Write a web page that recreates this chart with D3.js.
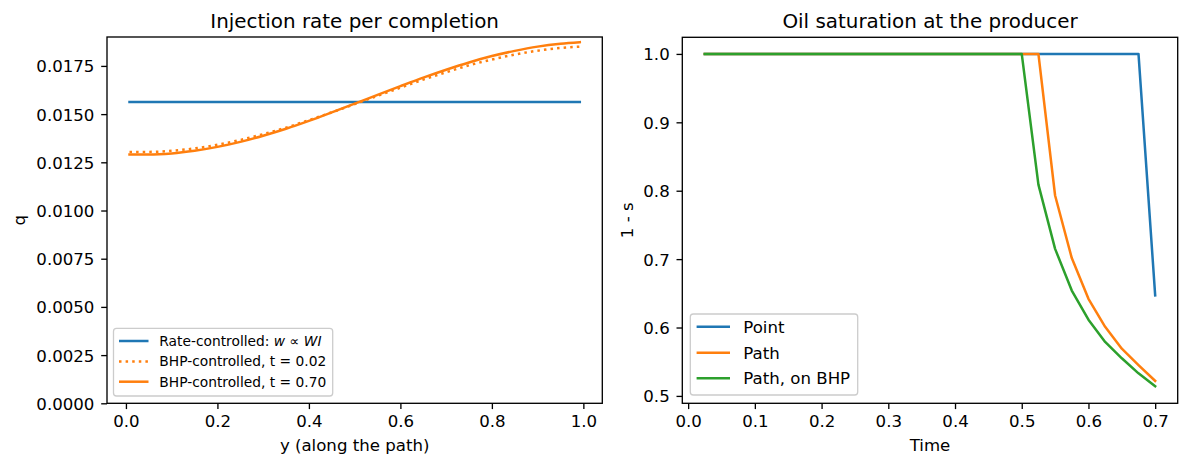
<!DOCTYPE html>
<html>
<head>
<meta charset="utf-8">
<script src="https://cdn.jsdelivr.net/npm/d3@7"></script>
<style>
  body { margin: 0; background: #fff; }
  svg { display: block; font-family: "DejaVu Sans", sans-serif; }
</style>
</head>
<body>
<div id="chart"></div>
<script>
// left panel: injection rate along the path
const pathY = [0.0078, 0.05, 0.10, 0.15, 0.20, 0.25, 0.30, 0.35, 0.40, 0.45, 0.50,
               0.55, 0.60, 0.65, 0.70, 0.75, 0.80, 0.85, 0.90, 0.95, 0.9922]
const rateCtrl = [0.015625, 0.015625, 0.015625, 0.015625, 0.015625, 0.015625, 0.015625,
                  0.015625, 0.015625, 0.015625, 0.015625, 0.015625, 0.015625, 0.015625,
                  0.015625, 0.015625, 0.015625, 0.015625, 0.015625, 0.015625, 0.015625]
const bhpEarly = [0.01304, 0.01304, 0.01310, 0.01322, 0.01341, 0.01366, 0.01396, 0.01430,
                  0.01469, 0.01509, 0.01552, 0.01595, 0.01637, 0.01679, 0.01717, 0.01753,
                  0.01783, 0.01809, 0.01829, 0.01843, 0.01850]
const bhpLate = [0.01290, 0.01290, 0.01296, 0.01310, 0.01330, 0.01356, 0.01388, 0.01424,
                 0.01465, 0.01509, 0.01554, 0.01600, 0.01645, 0.01689, 0.01730, 0.01768,
                 0.01801, 0.01828, 0.01850, 0.01865, 0.01873]
const leftYTicks = [0, 0.0025, 0.005, 0.0075, 0.01, 0.0125, 0.015, 0.0175]
const leftXTicks = [0, 0.2, 0.4, 0.6, 0.8, 1.0]

// right panel: oil saturation at the producer
const time = [0.025, 0.05, 0.075, 0.10, 0.125, 0.15, 0.175, 0.20, 0.225, 0.25, 0.275, 0.30,
              0.325, 0.35, 0.375, 0.40, 0.425, 0.45, 0.475, 0.50, 0.525, 0.55, 0.575, 0.60,
              0.625, 0.65, 0.675, 0.70]
const satPoint = [1, 1, 1, 1, 1, 1, 1, 1, 1, 1, 1, 1, 1, 1, 1, 1, 1, 1, 1, 1, 1, 1, 1, 1,
                  1, 1, 1, 0.647]
const satPath = [1, 1, 1, 1, 1, 1, 1, 1, 1, 1, 1, 1, 1, 1, 1, 1, 1, 1, 1, 1, 1, 0.793,
                 0.7015, 0.642, 0.601, 0.569, 0.545, 0.522]
const satPathBhp = [1, 1, 1, 1, 1, 1, 1, 1, 1, 1, 1, 1, 1, 1, 1, 1, 1, 1, 1, 1, 0.809, 0.715,
                    0.654, 0.6115, 0.579, 0.555, 0.533, 0.514]
const rightYTicks = [0.5, 0.6, 0.7, 0.8, 0.9, 1.0]
const rightXTicks = [0, 0.1, 0.2, 0.3, 0.4, 0.5, 0.6, 0.7]

const blue = "#1f77b4", orange = "#ff7f0e", green = "#2ca02c"
const width = 1189, height = 467
const tickFont = 16.6, lw = 2.5

const svg = d3.select("#chart").append("svg")
    .attr("width", width).attr("height", height)

function panel(box, xDomain, yDomain, xTicks, yTicks, xFmt, yFmt, title, xLabel, yLabel, yLabelX) {
    const x = d3.scaleLinear().domain(xDomain).range([box.left, box.right])
    const y = d3.scaleLinear().domain(yDomain).range([box.bottom, box.top])

    const gx = svg.append("g")
        .attr("transform", `translate(0,${box.bottom})`)
        .call(d3.axisBottom(x).tickValues(xTicks).tickFormat(xFmt)
            .tickSize(5.8).tickSizeOuter(0).tickPadding(5.8))
    const gy = svg.append("g")
        .attr("transform", `translate(${box.left},0)`)
        .call(d3.axisLeft(y).tickValues(yTicks).tickFormat(yFmt)
            .tickSize(5.8).tickSizeOuter(0).tickPadding(6.8))
    for (const g of [gx, gy]) {
        g.select(".domain").remove()
        g.selectAll("line").attr("stroke", "#000").attr("stroke-width", 1.33)
        g.selectAll("text").attr("fill", "#000")
            .style("font-size", tickFont + "px").style("font-family", "DejaVu Sans")
    }
    gy.selectAll("text").attr("dy", "0.36em")

    svg.append("text")
        .attr("x", (box.left + box.right) / 2).attr("y", 27.5)
        .attr("text-anchor", "middle").style("font-size", "19.9px")
        .text(title)
    svg.append("text")
        .attr("x", (box.left + box.right) / 2).attr("y", 450.5)
        .attr("text-anchor", "middle").style("font-size", tickFont + "px")
        .text(xLabel)
    svg.append("text")
        .attr("transform", `translate(${yLabelX},${(box.top + box.bottom) / 2}) rotate(-90)`)
        .attr("text-anchor", "middle").style("font-size", tickFont + "px")
        .text(yLabel)

    const plot = svg.append("g")
    svg.append("rect")
        .attr("x", box.left).attr("y", box.top)
        .attr("width", box.right - box.left).attr("height", box.bottom - box.top)
        .attr("fill", "none").attr("stroke", "#000").attr("stroke-width", 1.33)
    return {x, y, plot}
}

function addLine(p, xs, ys, color, dash, curve) {
    const line = d3.line()
        .x((d, i) => p.x(xs[i]))
        .y(d => p.y(d))
        .curve(curve || d3.curveLinear)
    p.plot.append("path")
        .datum(ys)
        .attr("d", line)
        .attr("fill", "none")
        .attr("stroke", color)
        .attr("stroke-width", lw)
        .attr("stroke-dasharray", dash || null)
        .attr("stroke-linejoin", "round")
        .attr("stroke-linecap", dash ? "butt" : "square")
}

function legend(box, rows, fontSize, handleX0, handleX1, textX, rowY) {
    const g = svg.append("g")
    g.append("rect")
        .attr("x", box.x).attr("y", box.y).attr("width", box.w).attr("height", box.h)
        .attr("rx", 3).attr("fill", "#fff").attr("fill-opacity", 0.8)
        .attr("stroke", "#cccccc").attr("stroke-width", 1.3)
    rows.forEach((r, i) => {
        const cy = rowY[i]
        g.append("line")
            .attr("x1", handleX0).attr("x2", handleX1).attr("y1", cy).attr("y2", cy)
            .attr("stroke", r.color).attr("stroke-width", lw)
            .attr("stroke-dasharray", r.dash || null)
        const t = g.append("text")
            .attr("x", textX).attr("y", cy + fontSize * 0.36)
            .style("font-size", fontSize + "px").attr("fill", "#000")
        r.parts.forEach(pt => {
            const s = t.append("tspan").text(pt.s)
            if (pt.italic) s.style("font-style", "italic")
        })
    })
}

// ---- left panel
const leftBox = {left: 107, right: 602.3, top: 37, bottom: 403.3}
const L = panel(leftBox, [-0.0414, 1.0414], [0, 0.0190], leftXTicks, leftYTicks,
    d3.format(".1f"), d3.format(".4f"),
    "Injection rate per completion", "y (along the path)", "q", 25)
addLine(L, pathY, rateCtrl, blue)
addLine(L, pathY, bhpEarly, orange, "2.5,4.1", d3.curveMonotoneX)
addLine(L, pathY, bhpLate, orange, null, d3.curveMonotoneX)

legend({x: 113.5, y: 328.3, w: 219.2, h: 67.7}, [
    {color: blue, parts: [{s: "Rate-controlled: "}, {s: "w", italic: true}, {s: " \u221d "}, {s: "WI", italic: true}]},
    {color: orange, dash: "2.5,4.1", parts: [{s: "BHP-controlled, t = 0.02"}]},
    {color: orange, parts: [{s: "BHP-controlled, t = 0.70"}]}
], 13.8, 119, 148.5, 159.3, [341, 361.5, 381.7])

// ---- right panel
const rightBox = {left: 682.3, right: 1177.7, top: 37.3, bottom: 403.3}
const R = panel(rightBox, [-0.00875, 0.73375], [0.4892, 1.0243], rightXTicks, rightYTicks,
    d3.format(".1f"), d3.format(".1f"),
    "Oil saturation at the producer", "Time", "1 - s", 633)
addLine(R, time, satPoint, blue)
addLine(R, time, satPath, orange)
addLine(R, time, satPathBhp, green)

legend({x: 690.3, y: 314, w: 167.4, h: 81}, [
    {color: blue, parts: [{s: "Point"}]},
    {color: orange, parts: [{s: "Path"}]},
    {color: green, parts: [{s: "Path, on BHP"}]}
], 16.6, 696.6, 730, 743.3, [326.7, 352.7, 378.3])
</script>
</body>
</html>
